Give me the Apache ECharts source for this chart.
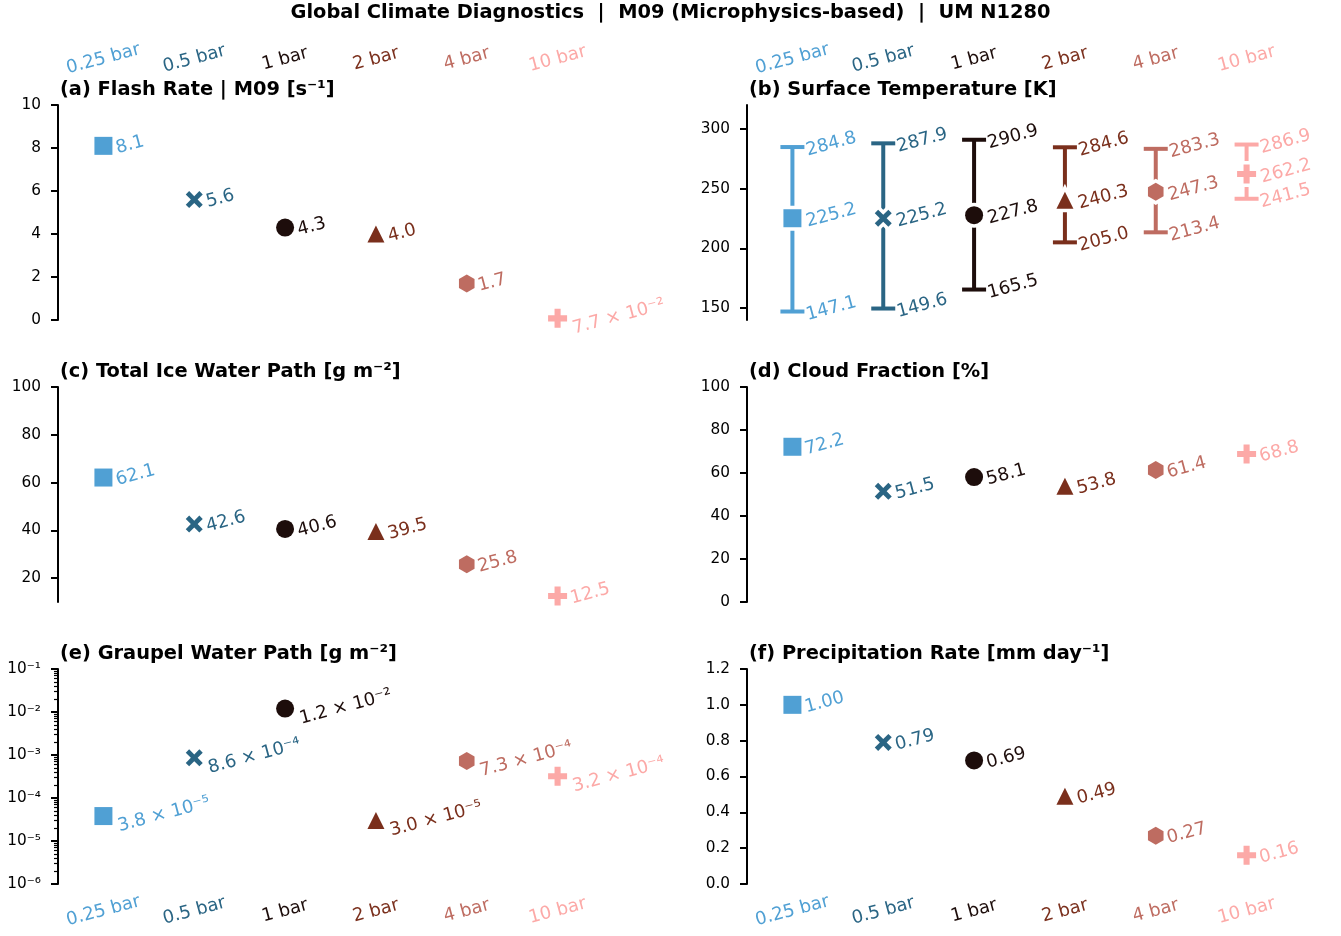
<!DOCTYPE html>
<html>
<head>
<meta charset="utf-8">
<script src="https://cdn.jsdelivr.net/npm/echarts@6/dist/echarts.min.js"></script>
<style>
  html, body { margin: 0; padding: 0; background: #fff; }
  #chart { width: 1341px; height: 936px; }
</style>
</head>
<body>
<div id="chart"></div>
<script>
// ---------------- data ----------------
const categories = ['0.25 bar', '0.5 bar', '1 bar', '2 bar', '4 bar', '10 bar'];
const flashRate = [8.1, 5.6, 4.3, 4.0, 1.7, 0.077];
const tsMean = [225.2, 225.2, 227.8, 240.3, 247.3, 262.2];
const tsMin = [147.1, 149.6, 165.5, 205.0, 213.4, 241.5];
const tsMax = [284.8, 287.9, 290.9, 284.6, 283.3, 286.9];
const iceWaterPath = [62.1, 42.6, 40.6, 39.5, 25.8, 12.5];
const cloudFraction = [72.2, 51.5, 58.1, 53.8, 61.4, 68.8];
const graupelWaterPath = [3.8e-5, 8.6e-4, 1.2e-2, 3.0e-5, 7.3e-4, 3.2e-4];
const precipRate = [1.00, 0.79, 0.69, 0.49, 0.27, 0.16];
const tsTicks = [150, 200, 250, 300];
const iwpTicks = [20, 40, 60, 80, 100];
const logMinorTicks = [];
for (let e = -6; e < -1; e++) for (let m = 2; m <= 9; m++) logMinorTicks.push(m * Math.pow(10, e));

// ---------------- styles ----------------
const colors = ['#50a0d4', '#2a6584', '#1d0d0b', '#7a2f1c', '#be6c61', '#fca9a7'];
const X_PATH = 'path://M2,0 L5,3 L8,0 L10,2 L7,5 L10,8 L8,10 L5,7 L2,10 L0,8 L3,5 L0,2 Z';
const PLUS_PATH = 'path://M3.4,0 L6.6,0 L6.6,3.4 L10,3.4 L10,6.6 L6.6,6.6 L6.6,10 L3.4,10 L3.4,6.6 L0,6.6 L0,3.4 L3.4,3.4 Z';
const HEX_PATH = 'path://M5,0 L9.33,2.5 L9.33,7.5 L5,10 L0.67,7.5 L0.67,2.5 Z';
const symbols = ['rect', X_PATH, 'circle', 'triangle', HEX_PATH, PLUS_PATH];
const sizes = [18, 17, 18, 17, 18, 19];
const FONT = 'DejaVu Sans';

const SUP = {'-': '\u207B', '0': '\u2070', '1': '\u00B9', '2': '\u00B2', '3': '\u00B3',
  '4': '\u2074', '5': '\u2075', '6': '\u2076', '7': '\u2077', '8': '\u2078', '9': '\u2079'};
function sup(n) { return String(n).split('').map(c => SUP[c]).join(''); }
function sci(v) {
  let e = Math.floor(Math.log10(v) + 1e-9);
  let m = v / Math.pow(10, e);
  return m.toFixed(1) + ' \u00D7 10' + sup(e);
}

const rowTop = [105, 387, 669];
const colLeft = [58, 747];
const W = 545, H = 215;

const grids = [];
for (let r = 0; r < 3; r++) for (let c = 0; c < 2; c++) {
  grids.push({ left: colLeft[c], top: rowTop[r], width: W, height: H, containLabel: false });
}

function xa(g, pos) {
  return {
    type: 'category', gridIndex: g, data: categories, boundaryGap: true,
    position: pos || 'bottom',
    axisLine: { show: false, onZero: false }, axisTick: { show: false }, splitLine: { show: false },
    axisLabel: pos ? {
      show: true, interval: 0, rotate: pos === 'top' ? -15 : 15, align: 'center', verticalAlign: 'middle',
      margin: pos === 'top' ? 46 : 27, fontSize: 18, fontFamily: FONT,
      color: (v, i) => colors[i]
    } : { show: false }
  };
}
const tickLabel = { fontSize: 15.3, color: '#000', fontFamily: FONT, margin: 17 };
const tickStyle = { show: true, length: 7, lineStyle: { color: '#000', width: 2 } };
function ya(g, extra) {
  return Object.assign({
    type: 'value', gridIndex: g, position: 'left',
    axisLine: { show: true, onZero: false, lineStyle: { color: '#000', width: 2 } },
    axisTick: tickStyle,
    axisLabel: tickLabel,
    splitLine: { show: false }
  }, extra);
}

function pointSeries(g, values, fmt) {
  return {
    type: 'scatter', xAxisIndex: g, yAxisIndex: g, z: 3,
    data: values.map((v, i) => {
      const isSci = fmt(v).indexOf('\u00D7') >= 0;
      return {
        value: [categories[i], v], symbol: symbols[i], symbolSize: sizes[i], symbolKeepAspect: true,
        itemStyle: { color: colors[i], opacity: 1 },
        label: { color: colors[i], offset: [0, isSci ? 11 : 3] }
      };
    }),
    label: {
      show: true, position: 'right', distance: 3, rotate: 15, fontSize: 18, fontFamily: FONT, opacity: 1,
      formatter: p => fmt(p.value[1]), textBorderColor: '#fff', textBorderWidth: 3
    },
    emphasis: { disabled: true }
  };
}

const titleStyle = { fontSize: 19.4, fontWeight: 'bold', fontFamily: FONT, color: '#000' };
const panelTitles = [
  '(a) Flash Rate | M09 [s\u207B\u00B9]',
  '(b) Surface Temperature [K]',
  '(c) Total Ice Water Path [g m\u207B\u00B2]',
  '(d) Cloud Fraction [%]',
  '(e) Graupel Water Path [g m\u207B\u00B2]',
  '(f) Precipitation Rate [mm day\u207B\u00B9]'
];
const titles = [{
  text: 'Global Climate Diagnostics  |  M09 (Microphysics-based)  |  UM N1280',
  left: 'center', top: 3, padding: 0, textStyle: titleStyle
}];
panelTitles.forEach((t, k) => {
  const r = Math.floor(k / 2), c = k % 2;
  titles.push({ text: t, left: colLeft[c] + 2, top: rowTop[r] - 25, padding: 0, textStyle: titleStyle });
});

const f1 = v => v.toFixed(1);
const f2 = v => v.toFixed(2);

const option = {
  animation: false,
  backgroundColor: '#fff',
  title: titles,
  grid: grids,
  xAxis: [xa(0, 'top'), xa(1, 'top'), xa(2), xa(3), xa(4, 'bottom'), xa(5, 'bottom')],
  yAxis: [
    ya(0, { min: 0, max: 10, interval: 2 }),
    ya(1, { min: 140, max: 320,
            axisLabel: Object.assign({}, tickLabel, { customValues: tsTicks }),
            axisTick: Object.assign({}, tickStyle, { customValues: tsTicks }) }),
    ya(2, { min: 10, max: 100,
            axisLabel: Object.assign({}, tickLabel, { customValues: iwpTicks }),
            axisTick: Object.assign({}, tickStyle, { customValues: iwpTicks }) }),
    ya(3, { min: 0, max: 100, interval: 20 }),
    ya(4, { type: 'log', logBase: 10, min: 1e-6, max: 1e-1,
            axisLabel: Object.assign({}, tickLabel, { formatter: v => '10' + sup(Math.round(Math.log10(v))) }) }),
    ya(5, { min: 0, max: 1.2, interval: 0.2,
            axisLabel: Object.assign({}, tickLabel, { formatter: v => v.toFixed(1) }) }),
    // minor ticks for the log axis
    { type: 'log', logBase: 10, gridIndex: 4, position: 'left', min: 1e-6, max: 1e-1,
      axisLine: { show: false, onZero: false }, axisLabel: { show: false }, splitLine: { show: false },
      axisTick: { show: true, length: 4, lineStyle: { color: '#000', width: 1.2 }, customValues: logMinorTicks } }
  ],
  series: [
    pointSeries(0, flashRate, v => v < 0.1 ? sci(v) : f1(v)),
    // error bars for surface temperature
    {
      type: 'custom', xAxisIndex: 1, yAxisIndex: 1, z: 1,
      data: categories.map((c, i) => [i, tsMin[i], tsMax[i]]),
      encode: { x: 0, y: [1, 2] },
      renderItem: (params, api) => {
        const i = api.value(0);
        const lo = api.coord([i, api.value(1)]);
        const hi = api.coord([i, api.value(2)]);
        const cw = 12;
        const col = colors[params.dataIndex];
        const st = { stroke: col, lineWidth: 4 };
        return { type: 'group', children: [
          { type: 'line', shape: { x1: lo[0], y1: lo[1], x2: hi[0], y2: hi[1] }, style: st },
          { type: 'line', shape: { x1: hi[0] - cw, y1: hi[1], x2: hi[0] + cw, y2: hi[1] }, style: st },
          { type: 'line', shape: { x1: lo[0] - cw, y1: lo[1], x2: lo[0] + cw, y2: lo[1] }, style: st }
        ] };
      }
    },
    // white halo beneath the mean markers
    {
      type: 'scatter', xAxisIndex: 1, yAxisIndex: 1, z: 2, silent: true,
      data: tsMean.map((v, i) => ({
        value: [categories[i], v], symbol: symbols[i], symbolSize: sizes[i], symbolKeepAspect: true,
        itemStyle: { color: '#fff', borderColor: '#fff', borderWidth: 7, opacity: 1 }
      })),
      emphasis: { disabled: true }
    },
    {
      type: 'scatter', xAxisIndex: 1, yAxisIndex: 1, z: 3,
      data: tsMean.map((v, i) => ({
        value: [categories[i], v], symbol: symbols[i], symbolSize: sizes[i], symbolKeepAspect: true,
        itemStyle: { color: colors[i], opacity: 1 },
        label: { color: colors[i] }
      })),
      label: { show: true, position: 'right', distance: 4, rotate: 15, fontSize: 18, fontFamily: FONT, opacity: 1,
               offset: [0, 4], formatter: p => f1(p.value[1]), textBorderColor: '#fff', textBorderWidth: 3 },
      emphasis: { disabled: true }
    },
    ...[tsMax, tsMin].map(arr => ({
      type: 'scatter', xAxisIndex: 1, yAxisIndex: 1, z: 4,
      data: arr.map((v, i) => ({
        value: [categories[i], v], symbol: 'rect', symbolSize: [24, 4],
        itemStyle: { color: 'rgba(0,0,0,0)' },
        label: { color: colors[i] }
      })),
      label: { show: true, position: 'right', distance: 1, rotate: 15, fontSize: 18, fontFamily: FONT,
               opacity: 1, offset: [0, 4], formatter: p => f1(p.value[1]), textBorderColor: '#fff', textBorderWidth: 3 },
      emphasis: { disabled: true }
    })),
    pointSeries(2, iceWaterPath, f1),
    pointSeries(3, cloudFraction, f1),
    pointSeries(4, graupelWaterPath, sci),
    pointSeries(5, precipRate, f2)
  ]
};

const chart = echarts.init(document.getElementById('chart'), null, { renderer: 'canvas' });
chart.setOption(option);
</script>
</body>
</html>
